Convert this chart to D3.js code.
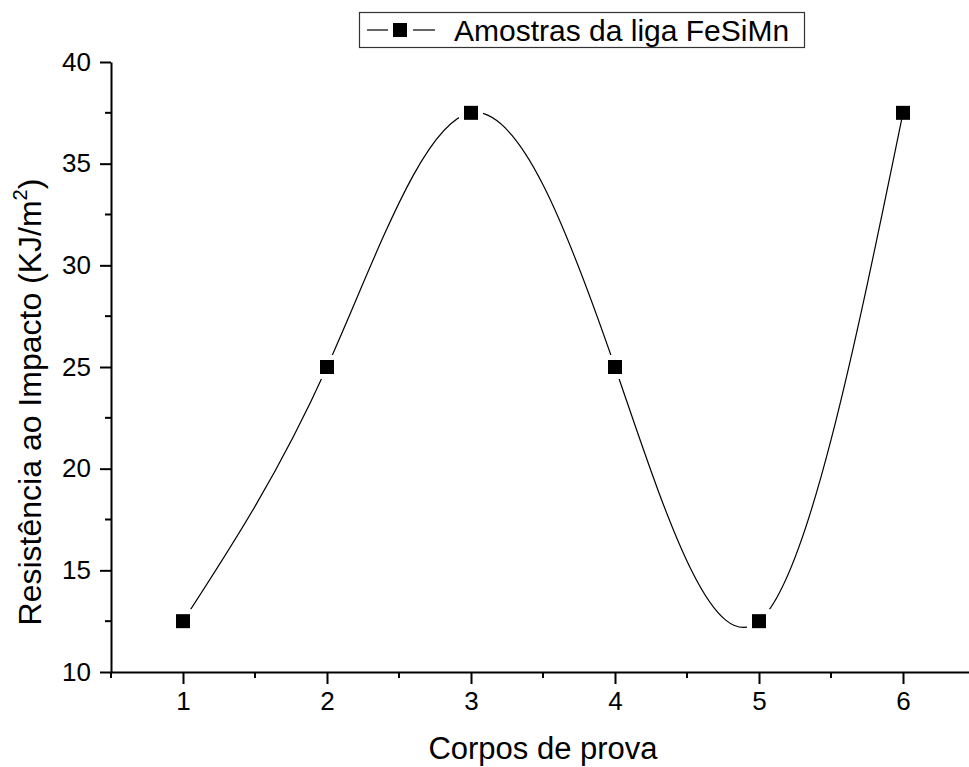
<!DOCTYPE html>
<meta charset="utf-8">
<style>
  body { margin: 0; background: #fff; }
  text { font-family: "Liberation Sans", Arial, sans-serif; fill: #000; }
</style>
<svg width="969" height="767"></svg>
<script src="https://cdn.jsdelivr.net/npm/d3@7"></script>
<script>
// data
var corpos = [1, 2, 3, 4, 5, 6];
var resistencia = [12.5, 25, 37.5, 25, 12.5, 37.5];
var xTicks = [1, 2, 3, 4, 5, 6];
var yTicks = [10, 15, 20, 25, 30, 35, 40];
var serieNome = "Amostras da liga FeSiMn";

var svg = d3.select("svg");
var x = d3.scaleLinear().domain([0.5, 6.5]).range([111, 975]);
var y = d3.scaleLinear().domain([10, 40]).range([672, 62]);

var pts = corpos.map(function(c, i) { return [c, resistencia[i]]; });

// spline through the points
var line = d3.line()
    .x(function(d) { return x(d[0]); })
    .y(function(d) { return y(d[1]); })
    .curve(d3.curveNatural);

svg.append("path")
    .datum(pts)
    .attr("d", line)
    .attr("fill", "none")
    .attr("stroke", "#000")
    .attr("stroke-width", 1.2);

// markers with a white gap around them
var ms = 14;
svg.selectAll("rect.halo")
  .data(pts.slice(0, -1))
  .enter().append("rect")
    .attr("x", function(d) { return x(d[0]) - ms / 2 - 5; })
    .attr("y", function(d) { return y(d[1]) - ms / 2 - 5; })
    .attr("width", ms + 10).attr("height", ms + 10)
    .attr("fill", "#fff");
svg.selectAll("rect.pt")
  .data(pts)
  .enter().append("rect")
    .attr("x", function(d) { return x(d[0]) - ms / 2; })
    .attr("y", function(d) { return y(d[1]) - ms / 2; })
    .attr("width", ms).attr("height", ms)
    .attr("fill", "#000");

// axes
var xAxis = svg.append("g")
    .attr("transform", "translate(0," + y(10) + ")")
    .call(d3.axisBottom(x).tickValues(xTicks).tickSize(12).tickSizeOuter(0).tickPadding(8).tickFormat(d3.format("d")));
xAxis.append("g").selectAll("line")
  .data(d3.range(0.5, 6.6, 1))
  .enter().append("line")
    .attr("x1", function(d) { return x(d); }).attr("x2", function(d) { return x(d); })
    .attr("y1", 0).attr("y2", 6)
    .attr("stroke", "#000").attr("stroke-width", 2);

var yAxis = svg.append("g")
    .attr("transform", "translate(" + x(0.5) + ",0)")
    .call(d3.axisLeft(y).tickValues(yTicks).tickSize(11).tickSizeOuter(0).tickPadding(9));
yAxis.append("g").selectAll("line")
  .data(d3.range(12.5, 40, 5))
  .enter().append("line")
    .attr("y1", function(d) { return y(d); }).attr("y2", function(d) { return y(d); })
    .attr("x1", 0).attr("x2", -6)
    .attr("stroke", "#000").attr("stroke-width", 2);

[xAxis, yAxis].forEach(function(a) {
  a.attr("font-size", 26).attr("font-family", "Liberation Sans, Arial, sans-serif");
  a.select(".domain").attr("stroke-width", 2);
  a.selectAll(".tick line").attr("stroke-width", 2);
});

// axis titles
svg.append("text")
    .attr("x", 543).attr("y", 759)
    .attr("text-anchor", "middle")
    .style("font-size", "31px")
    .text("Corpos de prova");

var yt = svg.append("text")
    .attr("transform", "translate(41,402) rotate(-90)")
    .attr("text-anchor", "middle")
    .style("font-size", "32px");
yt.append("tspan").text("Resistência ao Impacto (KJ/m");
yt.append("tspan").attr("dy", -14).style("font-size", "20px").text("2");
yt.append("tspan").attr("dy", 14).text(")");

// legend
var lg = svg.append("g");
lg.append("rect")
    .attr("x", 359.5).attr("y", 12.5).attr("width", 445).attr("height", 35)
    .attr("fill", "#fff").attr("stroke", "#333").attr("stroke-width", 1.2);
lg.append("line").attr("x1", 367).attr("x2", 388).attr("y1", 30).attr("y2", 30).attr("stroke", "#000").attr("stroke-width", 1.2);
lg.append("line").attr("x1", 413).attr("x2", 435).attr("y1", 30).attr("y2", 30).attr("stroke", "#000").attr("stroke-width", 1.2);
lg.append("rect").attr("x", 393).attr("y", 23).attr("width", 14).attr("height", 14).attr("fill", "#000");
lg.append("text")
    .attr("x", 454).attr("y", 41)
    .style("font-size", "30px")
    .text(serieNome);
</script>
